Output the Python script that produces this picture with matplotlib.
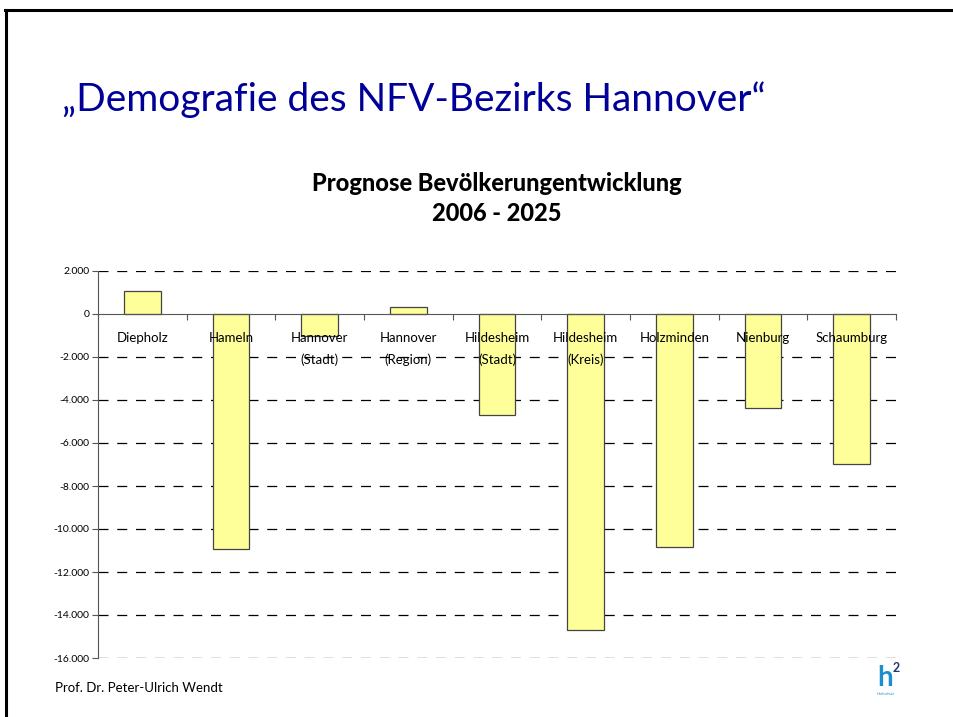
import matplotlib.pyplot as plt
from matplotlib.lines import Line2D
import numpy as np

# Daten
regionen = ["Diepholz", "Hameln", "Hannover\n(Stadt)", "Hannover\n(Region)",
            "Hildesheim\n(Stadt)", "Hildesheim\n(Kreis)", "Holzminden",
            "Nienburg", "Schaumburg"]
veraenderung = [1070, -10930, -1020, 330, -4700, -14700, -10840, -4370, -6980]
y_ticks = [2000, 0, -2000, -4000, -6000, -8000, -10000, -12000, -14000, -16000]
y_labels = ["2.000", "0", "-2.000", "-4.000", "-6.000", "-8.000", "-10.000",
            "-12.000", "-14.000", "-16.000"]

fig = plt.figure(figsize=(9.54, 7.17), dpi=100)
fig.patch.set_facecolor("white")

# Rahmen (oben und links)
fig.add_artist(Line2D([5/954, 1], [1 - 9.5/717, 1 - 9.5/717], color="black", linewidth=2.2))
fig.add_artist(Line2D([6/954, 6/954], [0, 1 - 9.5/717], color="black", linewidth=2.2))

# Überschrift
fig.text(62/954, 1 - 100/717, "\u201eDemografie des NFV-Bezirks Hannover\u201c",
         fontsize=28, color="#000099", family="Lato", va="center", ha="left")

ax = fig.add_axes([98/954, 59/717, 798/954, 387/717])
x = np.arange(len(regionen))
ax.bar(x, veraenderung, width=0.41, color="#FFFF99", edgecolor="#444444",
       linewidth=0.9, zorder=1)

ax.set_xlim(-0.5, len(regionen) - 0.5)
ax.set_ylim(y_ticks[-1], y_ticks[0])
ax.hlines([t for t in y_ticks if t != 0], -0.5, len(regionen) - 0.5,
          colors="black", linestyles=(0, (8, 7)), linewidth=0.9, zorder=0.5)

ax.set_yticks(y_ticks)
ax.set_yticklabels(y_labels, fontsize=7.5, family="Lato")
ax.tick_params(axis="y", direction="out", length=4, color="#555555", pad=2)

ax.spines["top"].set_visible(False)
ax.spines["right"].set_visible(False)
ax.spines["left"].set_color("#555555")
ax.spines["bottom"].set_position(("data", 0))
ax.spines["bottom"].set_color("#555555")

ax.set_xticks(np.arange(-0.5, len(regionen)), labels=[])
ax.set_xticks(x, labels=regionen, minor=True)
ax.tick_params(axis="x", which="major", direction="out", length=4, color="#555555")
ax.tick_params(axis="x", which="minor", length=0, pad=13, labelsize=9.5)
for lbl in ax.get_xticklabels(minor=True):
    lbl.set_family("Lato")
    lbl.set_linespacing(1.85)

ax.set_title("Prognose Bevölkerungentwicklung\n2006 - 2025", fontsize=17,
             fontweight="black", family="Lato", pad=36, linespacing=1.35)

# Fußzeile
fig.text(55/954, 1 - 688/717, "Prof. Dr. Peter-Ulrich Wendt", fontsize=9.5,
         family="Lato", va="center", ha="left")

# Logo
fig.text(877/954, 1 - 686/717, "h", fontsize=20, fontweight="bold",
         color="#1B8FCB", family="Lato", va="baseline")
fig.text(893/954, 1 - 672/717, "2", fontsize=9, fontweight="bold",
         color="#1F3A6E", family="Lato", va="baseline")
fig.text(886/954, 1 - 694/717, "Hochschule", fontsize=2.5, color="#1B8FCB",
         family="Lato", ha="center", va="center")

fig.savefig("out.png", dpi=100)
